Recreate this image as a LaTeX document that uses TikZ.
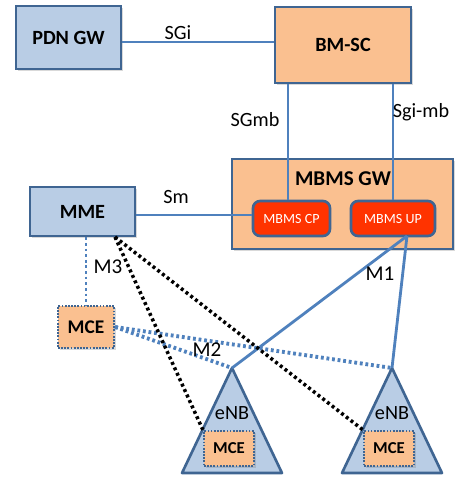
\documentclass[tikz,border=0pt]{standalone}
\usepackage{fontspec}
\setmainfont{Carlito}
\usetikzlibrary{shadows}
\definecolor{nodeblue}{HTML}{B9CDE5}
\definecolor{edgeblue}{HTML}{3F6592}
\definecolor{lineblue}{HTML}{4F81BD}
\definecolor{nodeorange}{HTML}{FAC090}
\definecolor{nodered}{HTML}{FF3300}
\tikzset{
  box/.style={draw=edgeblue, line width=1.5pt, inner sep=0pt,
    font=\fontsize{11.5}{12}\selectfont\bfseries,
    drop shadow={shadow xshift=1.2pt, shadow yshift=-1.2pt, opacity=0.3}},
  mcebox/.style={box, fill=nodeorange, draw=edgeblue, line width=1.3pt,
    dash pattern=on 1pt off 0.8pt},
  upbox/.style={draw=edgeblue, line width=1.5pt, fill=nodered, rounded corners=4pt,
    text=white, minimum height=0.7cm, inner sep=0pt, font=\fontsize{8}{9}\selectfont},
  link/.style={lineblue, line width=1.6pt},
  bluedots/.style={lineblue, line width=2.2pt, dash pattern=on 1.6pt off 1.6pt},
  blackdots/.style={black, line width=2pt, dash pattern=on 1.7pt off 1.7pt},
  lab/.style={font=\fontsize{11.5}{12}\selectfont, inner sep=1pt},
}
\begin{document}
\begin{tikzpicture}[x=0.02cm,y=-0.02cm]
\useasboundingbox (0,0) rectangle (456,477);

% Core network boxes
\node[box,fill=nodeblue,minimum width=2.1cm,minimum height=1.26cm] (pdn) at (68.5,37.5) {PDN GW};
\node[box,fill=nodeorange,minimum width=2.72cm,minimum height=1.52cm] (bmsc) at (343,45) {BM-SC};
\node[box,fill=nodeorange,minimum width=4.42cm,minimum height=1.8cm] (mbmsgw) at (342.5,204) {};
\node[font=\fontsize{12}{12}\selectfont\bfseries] (gwlab) at (343,179) {MBMS GW};
\node[upbox,minimum width=1.54cm] (cp) at (291.5,218.5) {MBMS CP};
\node[upbox,minimum width=1.68cm] (up) at (393,218.5) {MBMS UP};
\node[box,fill=nodeblue,minimum width=2.1cm,minimum height=0.98cm] (mme) at (82.5,211.5) {MME};
\node[mcebox,minimum width=1.12cm,minimum height=0.84cm,font=\fontsize{11}{12}\selectfont\bfseries] (mce) at (86,327) {MCE};

% eNBs with their own MCE
\foreach \n/\x in {1/232,2/392}{
  \draw[draw=edgeblue,fill=nodeblue,line width=1.5pt,line join=round]
    (\x,368) coordinate (apex\n) -- (\x+50,473) -- (\x-50,473) -- cycle;
  \node[font=\fontsize{11.5}{12}\selectfont] (enb\n) at (\x,413) {eNB};
  \node[mcebox,minimum width=1cm,minimum height=0.7cm,font=\fontsize{9.5}{11}\selectfont\bfseries] (mce\n) at (\x-3,448.5) {MCE};
}

% Interfaces
\coordinate (sgiy) at (0,42);
\coordinate (smy) at (0,215);
\coordinate (sgmbx) at (288,0);
\coordinate (m3x) at (86,0);
\coordinate (m1) at (407,236);
\coordinate (mmec) at (115,237);

\draw[link] (pdn.east |- sgiy) -- (bmsc.west |- sgiy);
\draw[link] (cp.north -| sgmbx) -- (bmsc.south -| sgmbx);
\draw[link] (up.north) -- (up.north |- bmsc.south);
\draw[link] (mme.east |- smy) -- (cp.west |- smy);
\draw[link] (m1) -- (apex1);
\draw[link] (m1) -- (apex2);
\draw[bluedots,line width=1.6pt] (mme.south -| m3x) -- (mce.north -| m3x);
\draw[bluedots] (mce.east) -- (apex1);
\draw[bluedots] (mce.east) -- (apex2);
\draw[blackdots] (mmec) -- (mce1.north west);
\draw[blackdots] (mmec) -- (mce2.north west);

% Labels
\node[lab] (sgilab) at (178,33) {SGi};
\node[lab] (sgmblab) at (255,120) {SGmb};
\node[lab] (sgimblab) at (421,112) {Sgi-mb};
\node[lab] (smlab) at (176,197) {Sm};
\node[lab,font=\fontsize{12}{12}\selectfont] (m3lab) at (108,267) {M3};
\node[lab,font=\fontsize{12}{12}\selectfont] (m2lab) at (207,350) {M2};
\node[lab,font=\fontsize{12}{12}\selectfont] (m1lab) at (380,274) {M1};
\end{tikzpicture}
\end{document}
